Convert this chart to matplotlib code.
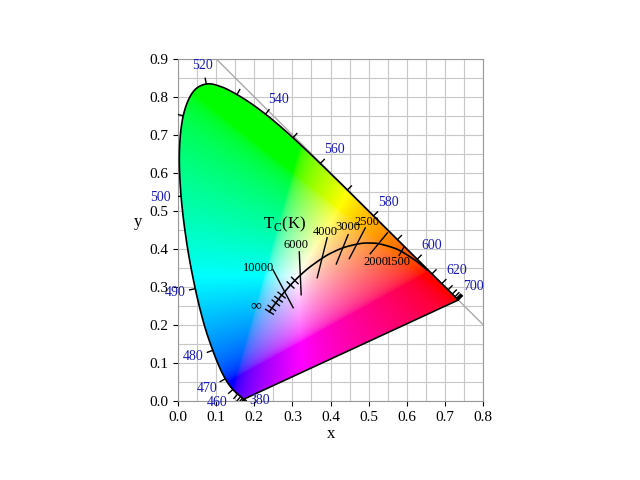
import numpy as np
import matplotlib
matplotlib.use("Agg")
import matplotlib.pyplot as plt
from matplotlib.path import Path
from matplotlib.patches import PathPatch

plt.rcParams['font.family'] = ['Liberation Serif', 'DejaVu Serif']

# CIE 1931 spectral locus (nm, x, y)
wl = [380, 390, 400, 410, 420, 430, 440, 450, 455, 460, 465, 470, 475, 480, 485,
      490, 495, 500, 505, 510, 515, 520, 525, 530, 535, 540, 545, 550, 555, 560,
      565, 570, 575, 580, 585, 590, 595, 600, 605, 610, 615, 620, 630, 640, 650,
      660, 670, 680, 700]
lx = [0.1741, 0.1738, 0.1733, 0.1726, 0.1714, 0.1689, 0.1644, 0.1566, 0.1510, 0.1440,
      0.1355, 0.1241, 0.1096, 0.0913, 0.0687, 0.0454, 0.0235, 0.0082, 0.0039, 0.0139,
      0.0389, 0.0743, 0.1142, 0.1547, 0.1929, 0.2296, 0.2658, 0.3016, 0.3373, 0.3731,
      0.4087, 0.4441, 0.4788, 0.5125, 0.5448, 0.5752, 0.6029, 0.6270, 0.6482, 0.6658,
      0.6801, 0.6915, 0.7079, 0.7190, 0.7260, 0.7300, 0.7320, 0.7334, 0.7347]
ly = [0.0050, 0.0049, 0.0048, 0.0048, 0.0051, 0.0069, 0.0109, 0.0177, 0.0227, 0.0297,
      0.0399, 0.0578, 0.0868, 0.1327, 0.2007, 0.2950, 0.4127, 0.5384, 0.6548, 0.7502,
      0.8120, 0.8338, 0.8262, 0.8059, 0.7816, 0.7543, 0.7243, 0.6923, 0.6589, 0.6245,
      0.5896, 0.5547, 0.5202, 0.4866, 0.4544, 0.4242, 0.3965, 0.3725, 0.3514, 0.3340,
      0.3197, 0.3083, 0.2920, 0.2809, 0.2740, 0.2700, 0.2680, 0.2666, 0.2653]
label_wl = [380, 460, 470, 480, 490, 500, 520, 540, 560, 580, 600, 620, 700]

# Planckian locus (K, x, y)
temps = [1000, 1200, 1500, 1700, 2000, 2200, 2500, 3000, 3500, 4000, 5000, 6000,
         7000, 8000, 10000, 12000, 15000, 20000, 40000, 1e9]
px = [0.6528, 0.6251, 0.5857, 0.5617, 0.5267, 0.5029, 0.4770, 0.4369, 0.4053, 0.3805,
      0.3451, 0.3221, 0.3064, 0.2952, 0.2807, 0.2716, 0.2637, 0.2565, 0.2461, 0.2399]
py = [0.3444, 0.3674, 0.3931, 0.4036, 0.4133, 0.4152, 0.4137, 0.4041, 0.3907, 0.3768,
      0.3516, 0.3318, 0.3166, 0.3048, 0.2883, 0.2782, 0.2673, 0.2577, 0.2441, 0.2342]

# long isotherms (label, x0, y0, x1, y1)
iso = [("10000", 0.249, 0.345, 0.302, 0.245),
       ("6000", 0.318, 0.392, 0.323, 0.279),
       ("4000", 0.391, 0.429, 0.365, 0.324),
       ("3000", 0.446, 0.437, 0.415, 0.360),
       ("2500", 0.491, 0.455, 0.449, 0.374),
       ("2000", 0.549, 0.442, 0.504, 0.387)]
iso_labels = [(0.21, 0.35), (0.31, 0.41), (0.385, 0.445), (0.445, 0.458),
              (0.495, 0.47), (0.52, 0.365)]
short_ticks = [1500, 7000, 8000, 12000, 15000, 20000, 40000]


def smooth(xs, ys, k=12):
    # Catmull-Rom through the tabulated points, for drawing only
    p = np.column_stack([xs, ys])
    p = np.vstack([p[0], p, p[-1]])
    out = []
    t = np.linspace(0, 1, k, endpoint=False)[:, None]
    for i in range(1, len(p) - 2):
        p0, p1, p2, p3 = p[i - 1], p[i], p[i + 1], p[i + 2]
        out.append(0.5 * (2 * p1 + (-p0 + p2) * t + (2 * p0 - 5 * p1 + 4 * p2 - p3) * t ** 2
                          + (-p0 + 3 * p1 - 3 * p2 + p3) * t ** 3))
    out.append(p[-2][None])
    out = np.vstack(out)
    return out[:, 0], out[:, 1]


fig = plt.figure(figsize=(6.4, 4.8), dpi=100)
ax = fig.add_axes([0.278, 0.165, 0.477, 0.7125])
ax.set_xlim(0, 0.8)
ax.set_ylim(0, 0.9)

# colour fill
n = 400
gx, gy = np.meshgrid(np.linspace(0, 0.8, n), np.linspace(0, 0.9, n))
gy2 = np.maximum(gy, 1e-4)
X = gx / gy2
Z = (1 - gx - gy) / gy2
Y = np.ones_like(X)
r = 3.2406 * X - 1.5372 * Y - 0.4986 * Z
g = -0.9689 * X + 1.8758 * Y + 0.0415 * Z
b = 0.0557 * X - 0.2040 * Y + 1.0570 * Z
rgb = np.clip(np.stack([r, g, b], -1), 0, None)
rgb = rgb / np.maximum(rgb.max(-1, keepdims=True), 1e-9)
rgb = np.where(rgb <= 0.0031308, 12.92 * rgb, 1.055 * rgb ** (1 / 2.4) - 0.055)
im = ax.imshow(rgb, origin='lower', extent=[0, 0.8, 0, 0.9], aspect='auto',
               interpolation='bilinear', zorder=1)
sx, sy = smooth(lx, ly)
verts = list(zip(sx, sy)) + [(sx[0], sy[0])]
patch = PathPatch(Path(verts), facecolor='none', edgecolor='none')
ax.add_patch(patch)
im.set_clip_path(patch)

ax.set_xticks(np.arange(0, 0.81, 0.1))
ax.set_yticks(np.arange(0, 0.91, 0.1))
ax.set_xticks(np.arange(0, 0.81, 0.05), minor=True)
ax.set_yticks(np.arange(0, 0.91, 0.05), minor=True)
ax.tick_params(which='minor', length=0)
ax.grid(which='both', color='#c8c8c8', lw=0.8, zorder=0)
ax.set_axisbelow(True)
for s in ax.spines.values():
    s.set_color('#999999')
ax.set_xlabel('x', fontsize=12, labelpad=2)
ax.set_ylabel('y', fontsize=12, rotation=0, labelpad=8)
ax.tick_params(labelsize=11)

ax.plot(list(sx) + [sx[0]], list(sy) + [sy[0]], color='black', lw=1.2, zorder=3)
ax.plot([0.1, 0.8], [0.9, 0.2], color='#aaaaaa', lw=1, zorder=2)

# wavelength ticks and labels
lxa, lya = np.array(lx), np.array(ly)
for i, w in enumerate(wl):
    if w % 10:
        continue
    i0, i1 = max(i - 1, 0), min(i + 1, len(wl) - 1)
    dx, dy = lxa[i1] - lxa[i0], lya[i1] - lya[i0]
    nx, ny = dy, -dx
    if nx * (lxa[i] - 0.33) + ny * (lya[i] - 0.33) < 0:
        nx, ny = -nx, -ny
    L = np.hypot(nx, ny)
    nx, ny = nx / L, ny / L
    if w == 380:
        nx, ny = 0.7, -0.7
    ax.plot([lxa[i], lxa[i] + 0.015 * nx], [lya[i], lya[i] + 0.015 * ny],
            color='black', lw=1, zorder=3)
    if w in label_wl:
        tx, ty = lxa[i] + 0.055 * nx, lya[i] + 0.05 * ny
        if w == 380:
            tx, ty = 0.215, 0.0
        ax.text(tx, ty, str(w), color='#1a1ab4', fontsize=10, ha='center',
                va='center', zorder=4, clip_on=False)

# Planckian locus
qx, qy = smooth(px, py, 8)
ax.plot(qx, qy, color='black', lw=1.2, zorder=3)
pxa, pya = np.array(px), np.array(py)
for t in short_ticks:
    i = temps.index(t)
    dx, dy = pxa[i + 1] - pxa[i - 1], pya[i + 1] - pya[i - 1]
    L = np.hypot(dx, dy)
    nx, ny = -dy / L, dx / L
    ax.plot([pxa[i] - 0.012 * nx, pxa[i] + 0.012 * nx],
            [pya[i] - 0.012 * ny, pya[i] + 0.012 * ny], color='black', lw=1, zorder=3)
# end bar at infinity
dx, dy = pxa[-1] - pxa[-2], pya[-1] - pya[-2]
L = np.hypot(dx, dy)
nx, ny = -dy / L, dx / L
ax.plot([pxa[-1] - 0.012 * nx, pxa[-1] + 0.012 * nx],
        [pya[-1] - 0.012 * ny, pya[-1] + 0.012 * ny], color='black', lw=1, zorder=3)
ax.text(0.205, 0.25, '∞', fontsize=11, ha='center', va='center')

for (lab, x0, y0, x1, y1), (tx, ty) in zip(iso, iso_labels):
    ax.plot([x0, x1], [y0, y1], color='black', lw=1, zorder=3)
    ax.text(tx, ty, lab, fontsize=9, ha='center', va='center', zorder=4)
ax.text(0.578, 0.365, '1500', fontsize=9, ha='center', va='center', zorder=4)
ax.text(0.28, 0.465, r'T$_\mathregular{C}$(K)', fontsize=12, ha='center', va='center')

fig.savefig('out.png')
